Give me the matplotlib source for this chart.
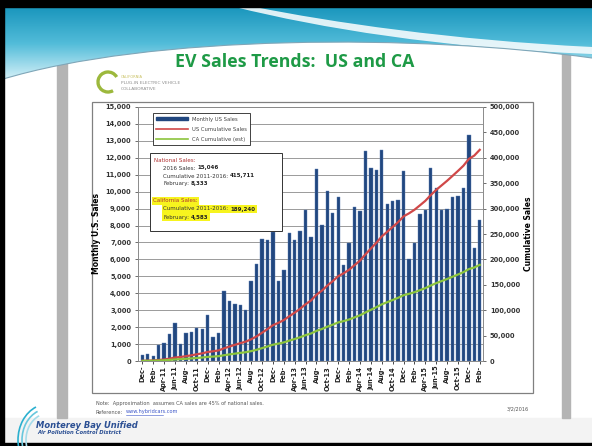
import matplotlib.pyplot as plt
import matplotlib.patches as mpatches
from matplotlib.path import Path
from matplotlib.lines import Line2D
from matplotlib.colors import LinearSegmentedColormap
import numpy as np

# months Dec-10 .. Feb-16
months = ['Dec-10',
          'Jan-11', 'Feb-11', 'Mar-11', 'Apr-11', 'May-11', 'Jun-11', 'Jul-11', 'Aug-11', 'Sep-11', 'Oct-11', 'Nov-11', 'Dec-11',
          'Jan-12', 'Feb-12', 'Mar-12', 'Apr-12', 'May-12', 'Jun-12', 'Jul-12', 'Aug-12', 'Sep-12', 'Oct-12', 'Nov-12', 'Dec-12',
          'Jan-13', 'Feb-13', 'Mar-13', 'Apr-13', 'May-13', 'Jun-13', 'Jul-13', 'Aug-13', 'Sep-13', 'Oct-13', 'Nov-13', 'Dec-13',
          'Jan-14', 'Feb-14', 'Mar-14', 'Apr-14', 'May-14', 'Jun-14', 'Jul-14', 'Aug-14', 'Sep-14', 'Oct-14', 'Nov-14', 'Dec-14',
          'Jan-15', 'Feb-15', 'Mar-15', 'Apr-15', 'May-15', 'Jun-15', 'Jul-15', 'Aug-15', 'Sep-15', 'Oct-15', 'Nov-15', 'Dec-15',
          'Jan-16', 'Feb-16']

monthly_us = [330,
              400, 300, 920, 1040, 1600, 2240, 1020, 1640, 1720, 1960, 1890, 2700,
              1400, 1640, 4120, 3520, 3350, 3280, 3000, 4700, 5720, 7200, 7120, 7620,
              4720, 5380, 7580, 7120, 7700, 8920, 7300, 11320, 8040, 10020, 8760, 9700,
              5680, 6990, 9110, 8860, 12380, 11420, 11280, 12460, 9270, 9470, 9510, 11240,
              6000, 6990, 8680, 8920, 11400, 10200, 8920, 8980, 9670, 9750, 10200, 13350,
              6690, 8333]

us_cumulative = [330,
                 730, 1030, 1950, 2990, 4590, 6830, 7850, 9490, 11210, 13170, 15060, 17760,
                 19160, 20800, 24920, 28440, 31790, 35070, 38070, 42770, 48490, 55690, 62810, 70430,
                 75150, 80530, 88110, 95230, 102930, 111850, 119150, 130470, 138510, 148530, 157290, 166990,
                 172670, 179660, 188770, 197630, 210010, 221430, 232710, 245170, 254440, 263910, 273420, 284660,
                 290660, 297650, 306330, 315250, 326650, 336850, 345770, 354750, 364420, 374170, 384370, 397720,
                 404410, 415711]

ca_cumulative = [150,
                 330, 470, 890, 1360, 2090, 3110, 3570, 4320, 5100, 5990, 6850, 8080,
                 8720, 9460, 11340, 12940, 14460, 15960, 17320, 19460, 22060, 25340, 28580, 32050,
                 34190, 36640, 40090, 43330, 46830, 50890, 54210, 59360, 63020, 67580, 71570, 75980,
                 78560, 81750, 85890, 89920, 95550, 100750, 105880, 111550, 115770, 120080, 124410, 129520,
                 132250, 135430, 139380, 143440, 148630, 153270, 157330, 161410, 165810, 170250, 174890, 180960,
                 184010, 189240]

# tick labels as they show on the slide (every 2nd month)
tick_labels = ['Dec-', 'Feb-', 'Apr-11', 'Jun-11', 'Aug-', 'Oct-11',
               'Dec-', 'Feb-', 'Apr-12', 'Jun-12', 'Aug-', 'Oct-12',
               'Dec-', 'Feb-', 'Apr-13', 'Jun-13', 'Aug-', 'Oct-13',
               'Dec-', 'Feb-', 'Apr-14', 'Jun-14', 'Aug-', 'Oct-14',
               'Dec-', 'Feb-', 'Apr-15', 'Jun-15', 'Aug-', 'Oct-15',
               'Dec-', 'Feb-']

W, H = 592, 446
fig = plt.figure(figsize=(W / 100, H / 100), dpi=100)

# ---- slide background (pixel coords) ----
bg = fig.add_axes([0, 0, 1, 1], zorder=0)
bg.set_xlim(0, W)
bg.set_ylim(H, 0)
bg.axis('off')

bg.add_patch(mpatches.Rectangle((0, 418), W, 28, color='#f3f3f3'))
bg.add_patch(mpatches.Rectangle((57, 50), 10, 368, color='#b4b4b4'))
bg.add_patch(mpatches.Rectangle((562, 50), 8, 368, color='#b4b4b4'))
bg.add_patch(mpatches.Rectangle((92, 102), 441, 291, facecolor='white', edgecolor='#808080', lw=0.9))

# teal wave at the top
wave = Path([(0, 7), (W, 7), (W, 58), (420, 34), (150, 34), (0, 80), (0, 7)],
            [Path.MOVETO, Path.LINETO, Path.LINETO, Path.CURVE4, Path.CURVE4, Path.CURVE4, Path.CLOSEPOLY])
wave_patch = mpatches.PathPatch(wave, facecolor='none', edgecolor='none')
bg.add_patch(wave_patch)
grad = np.linspace(0, 1, 100).reshape(-1, 1)
teal = LinearSegmentedColormap.from_list('teal', ['#1a96bd', '#52bcd9', '#d6f1f8'])
im = bg.imshow(grad, extent=[0, W, 80, 7], cmap=teal, aspect='auto', zorder=1)
im.set_clip_path(wave_patch)
swoosh = Path([(255, 7), (330, 22), (450, 40), (W, 47), (W, 54), (440, 48), (320, 28), (235, 7), (255, 7)],
              [Path.MOVETO, Path.CURVE4, Path.CURVE4, Path.CURVE4, Path.LINETO,
               Path.CURVE4, Path.CURVE4, Path.CURVE4, Path.CLOSEPOLY])
bg.add_patch(mpatches.PathPatch(swoosh, facecolor='white', edgecolor='none', alpha=0.85, zorder=2))
edge = Path([(0, 80), (150, 34), (420, 34), (W, 58)], [Path.MOVETO, Path.CURVE4, Path.CURVE4, Path.CURVE4])
bg.add_patch(mpatches.PathPatch(edge, facecolor='none', edgecolor='#7fa6b8', lw=0.8, zorder=2))

# black border of the screenshot
bg.add_patch(mpatches.Rectangle((0, 0), W, 7, color='black', zorder=3))
bg.add_patch(mpatches.Rectangle((0, 0), 4, H, color='black', zorder=3))
bg.add_patch(mpatches.Rectangle((0, 443), W, 3, color='black', zorder=3))

bg.text(295, 62, 'EV Sales Trends:  US and CA', ha='center', va='center', fontsize=12.8,
        fontweight='bold', color='#1e9a46', family='Open Sans', zorder=4)

# collaborative logo
bg.add_patch(mpatches.Arc((108, 82), 20, 20, theta1=60, theta2=330, color='#9cb83c', lw=2.4, zorder=4))
bg.text(121, 77, 'CALIFORNIA', fontsize=2.6, color='#c8c060', va='center')
bg.text(121, 83, 'PLUG-IN ELECTRIC VEHICLE', fontsize=3.2, color='#909090', va='center')
bg.text(121, 89, 'COLLABORATIVE', fontsize=3.2, color='#909090', va='center')

# Monterey Bay logo
for r, c in [(30, '#2bb0cf'), (26, '#68c7dd'), (22, '#a6dcea')]:
    bg.add_patch(mpatches.Arc((48, 440), 2 * r, 2.4 * r, theta1=110, theta2=250, color=c, lw=1.2, zorder=4))
bg.text(36, 425, 'Monterey Bay Unified', fontsize=6, style='italic', fontweight='bold',
        color='#2b4f93', va='center', zorder=5)
bg.text(37, 433, 'Air Pollution Control District', fontsize=3.8, style='italic', fontweight='bold',
        color='#2b4f93', va='center', zorder=5)

# ---- the chart ----
ax = fig.add_axes([138 / W, 1 - 361 / H, 345 / W, 254 / H], zorder=2)
x = np.arange(len(months))
ax.bar(x, monthly_us, width=0.62, color='#21477f', edgecolor='#5d80b5', linewidth=0.3, zorder=2)
ax.set_xlim(-0.8, 62.6)
ax.set_ylim(0, 15000)
ax.set_yticks(np.arange(0, 15001, 1000))
ax.set_yticklabels(['{:,}'.format(v) for v in range(0, 15001, 1000)])
ax.yaxis.grid(True, color='#9a9a9a', lw=0.7, zorder=0)
ax.set_axisbelow(True)
ax.set_xticks(x[::2])
ax.set_xticklabels(tick_labels, rotation=90, fontsize=4.8, fontweight='bold', color='#222222')
ax.tick_params(axis='y', labelsize=4.8, length=2, width=0.5, colors='#333333', pad=3)
ax.tick_params(axis='x', length=2, width=0.5, pad=1.5)
for lab in ax.get_yticklabels():
    lab.set_fontweight('bold')
for s in ax.spines.values():
    s.set_color('#8a8a8a')
    s.set_linewidth(0.6)
ax.set_ylabel('Monthly U.S. Sales', fontsize=5.5, fontweight='bold', labelpad=3)

ax2 = ax.twinx()
ax2.plot(x, us_cumulative, color='#d04848', lw=1.6, zorder=3)
ax2.plot(x, ca_cumulative, color='#8cc43c', lw=1.6, zorder=3)
ax2.set_ylim(0, 500000)
ax2.set_yticks(np.arange(0, 500001, 50000))
ax2.set_yticklabels(['{:,}'.format(v) for v in range(0, 500001, 50000)])
ax2.tick_params(axis='y', labelsize=4.8, length=2, width=0.5, colors='#333333', pad=3)
for lab in ax2.get_yticklabels():
    lab.set_fontweight('bold')
for s in ax2.spines.values():
    s.set_color('#8a8a8a')
    s.set_linewidth(0.6)
ax2.set_ylabel('Cumulative Sales', fontsize=5.5, fontweight='bold', labelpad=3)

handles = [mpatches.Patch(facecolor='#21477f', edgecolor='#21477f'),
           Line2D([0], [0], color='#d04848', lw=1.2),
           Line2D([0], [0], color='#8cc43c', lw=1.2)]
leg = ax2.legend(handles, ['Monthly US Sales', 'US Cumulative Sales', 'CA Cumulative (est)'],
                 loc='upper left', bbox_to_anchor=(0.035, 0.985), fontsize=3.8, handlelength=6,
                 handleheight=0.6, fancybox=False, edgecolor='#222222', framealpha=1,
                 borderpad=0.6, labelspacing=1.0)
leg.get_frame().set_linewidth(0.6)
for t in leg.get_texts():
    t.set_color('#444444')

# ---- overlay: info box and notes ----
ov = fig.add_axes([0, 0, 1, 1], zorder=5)
ov.set_xlim(0, W)
ov.set_ylim(H, 0)
ov.axis('off')
ov.patch.set_alpha(0)

ov.add_patch(mpatches.Rectangle((150, 153), 132, 78, facecolor='white', edgecolor='#333333', lw=0.7))

fs = 4.0
yel = dict(facecolor='#f7f41e', edgecolor='none', pad=0.8)


def info_line(xp, yp, label, value, hl=False):
    # label text then bold value right after it
    t = ov.text(xp, yp, label, fontsize=fs, color='#333333', va='center',
                bbox=yel if hl else None)
    ov.annotate(value, xy=(1, 0.5), xycoords=t, xytext=(1.5, 0), textcoords='offset points',
                fontsize=fs, color='#222222', va='center', fontweight='bold',
                bbox=dict(yel, pad=1.0) if hl else None)


ov.text(154, 160, 'National Sales:', fontsize=fs, color='#b03030', va='center')
info_line(163, 168, '2016 Sales:', '15,046')
info_line(163, 176, 'Cumulative 2011-2016:', '415,711')
info_line(163, 184, 'February:', '8,333')
ov.text(153, 201, 'California Sales:', fontsize=fs, color='#b03030', va='center', bbox=yel)
info_line(163, 209, 'Cumulative 2011-2016:', '189,240', hl=True)
info_line(163, 217, 'February:', '4,583', hl=True)

ov.text(96, 404, 'Note:  Approximation  assumes CA sales are 45% of national sales.', fontsize=3.6,
        color='#555555', va='center')
ov.text(96, 412, 'Reference:', fontsize=3.6, color='#555555', va='center')
ov.text(126, 412, 'www.hybridcars.com', fontsize=3.6, color='#3b55c8', va='center')
ov.plot([126, 163], [414.5, 414.5], color='#3b55c8', lw=0.4)
ov.text(529, 409, '3/2/2016', fontsize=3.6, color='#555555', va='center', ha='right')

plt.savefig('out.png', dpi=100)
